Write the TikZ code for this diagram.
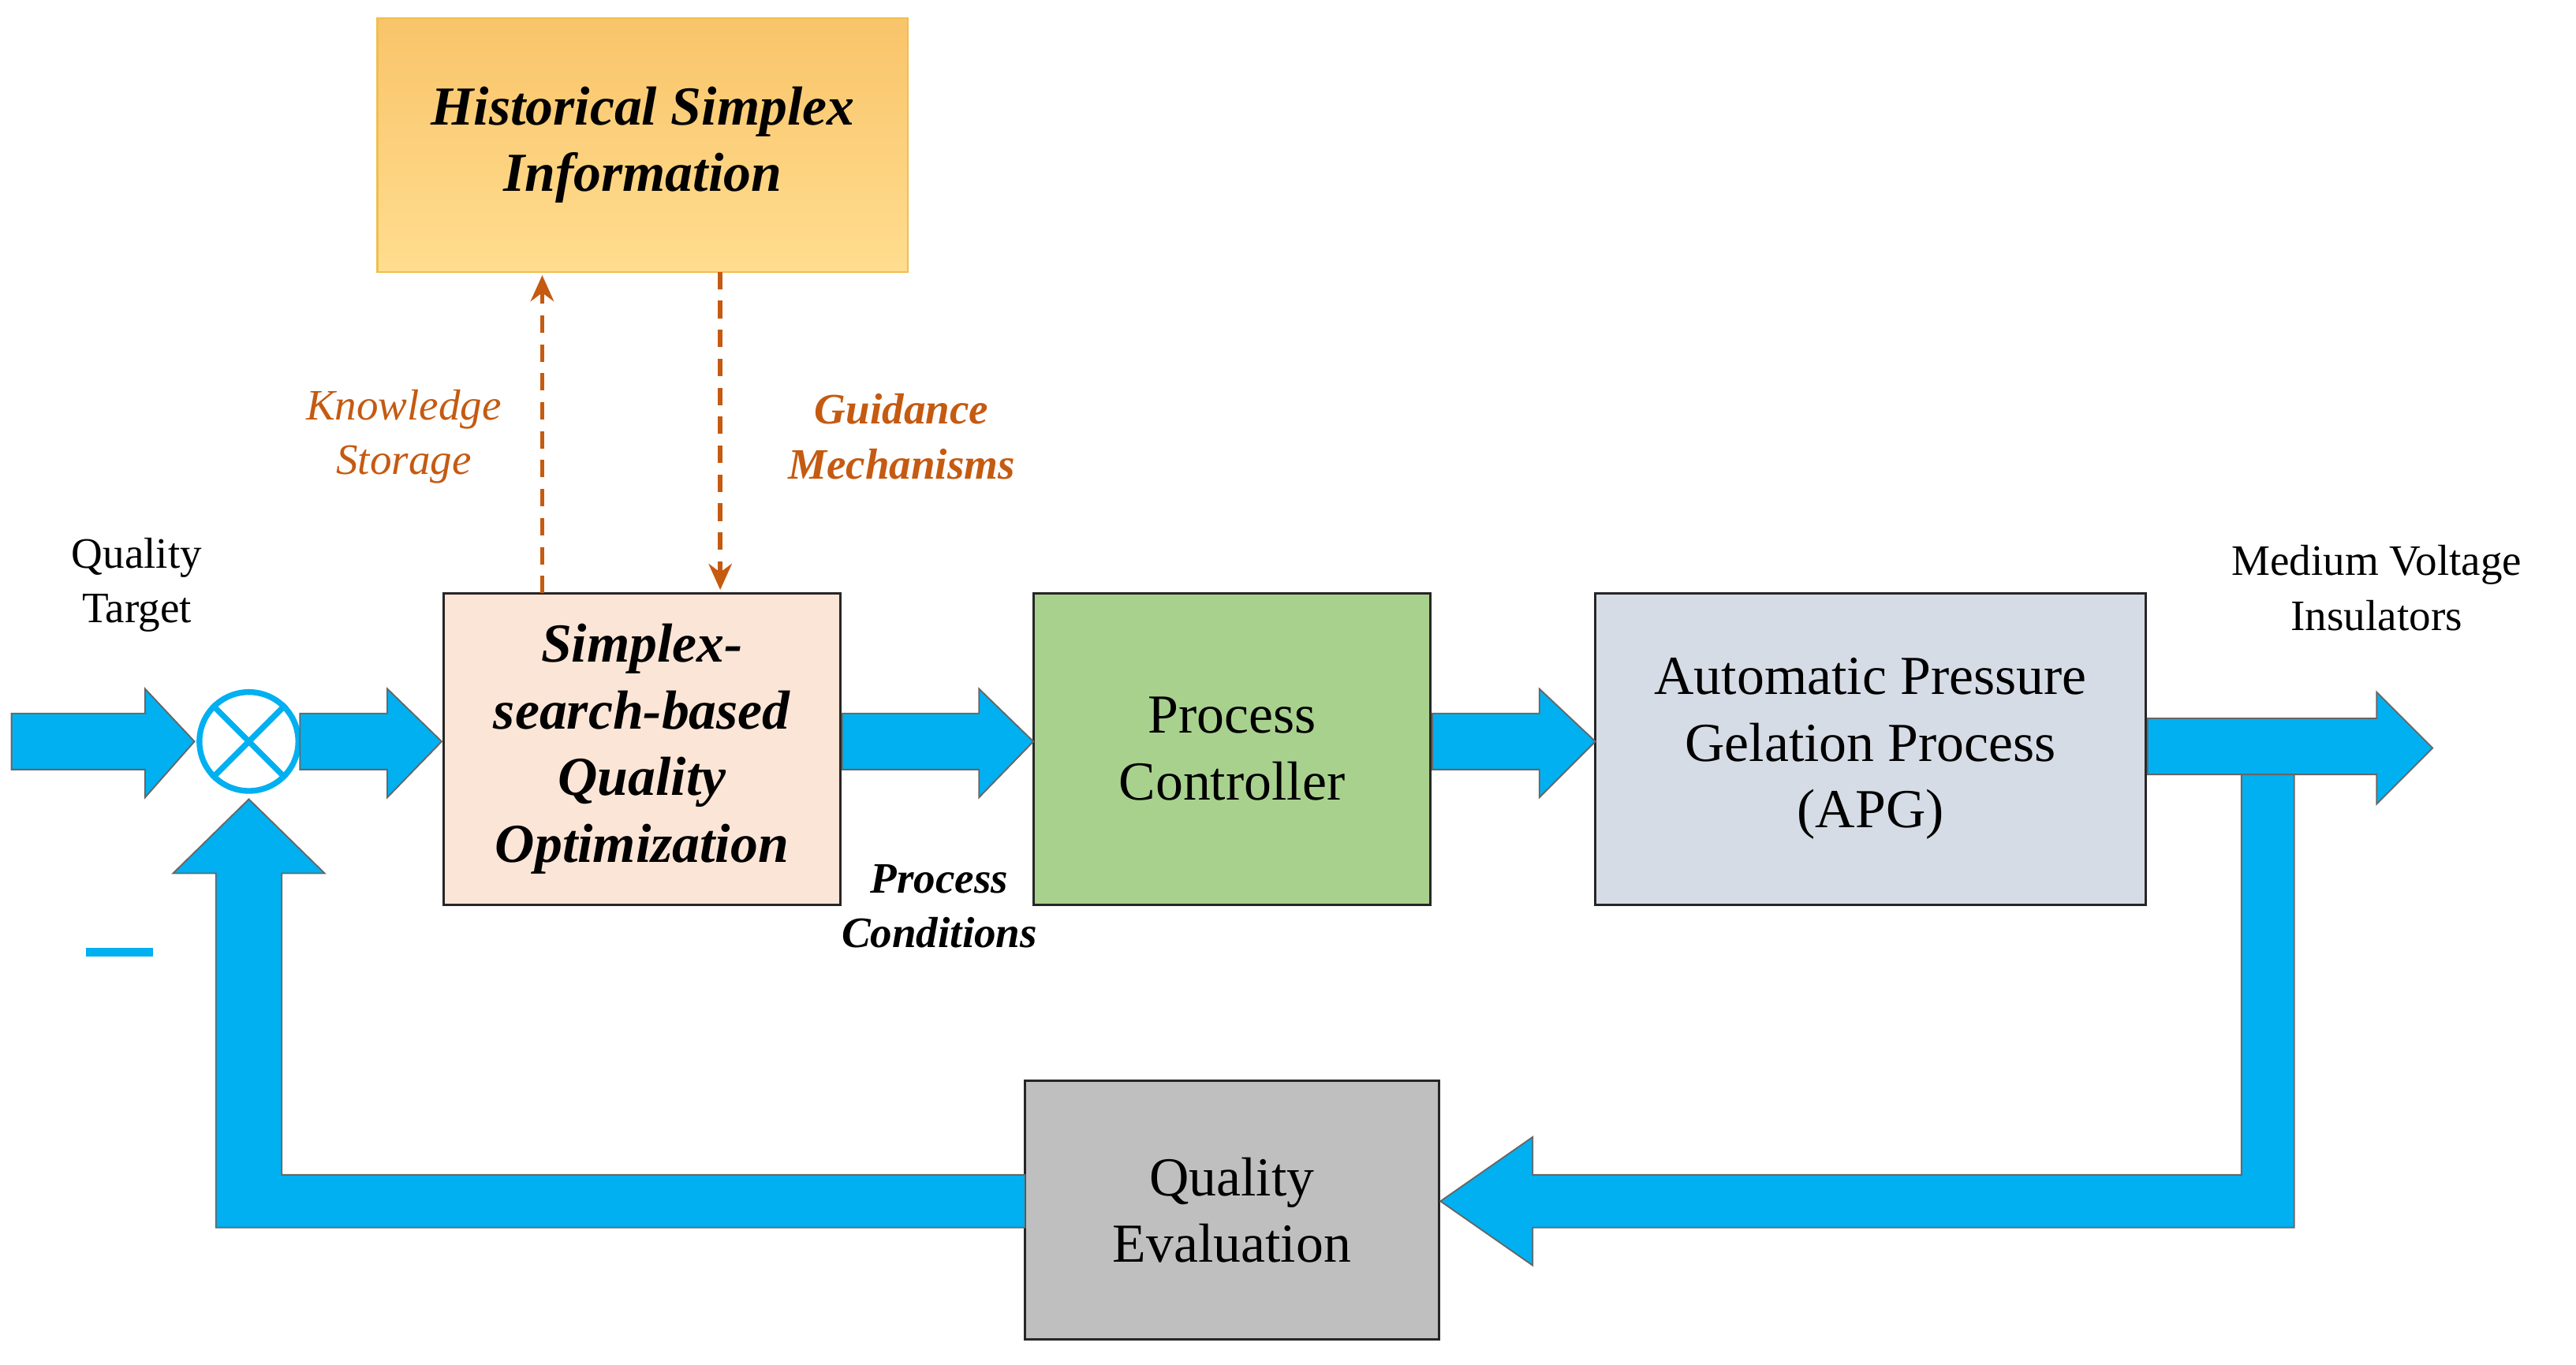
\documentclass[tikz,border=0pt]{standalone}
\usepackage{fontspec}
\setmainfont{Liberation Serif}
\usetikzlibrary{arrows.meta}
\definecolor{cy}{HTML}{00B0F0}
\definecolor{og}{HTML}{C55A11}
\begin{document}
\begin{tikzpicture}[x=0.02cm,y=-0.02cm,
  box/.style={draw=black!85,line width=0.8pt,minimum width=#1,align=center,font=\fontsize{19}{23}\selectfont,inner sep=0pt},
  blk/.style={fill=cy,draw=black!60,line width=0.5pt},
  dsh/.style={og,line width=1.6pt,dash pattern=on 6pt off 4pt,-{Stealth[length=9pt,width=8pt]}},
  lab/.style={align=center,font=\fontsize{15}{19}\selectfont}]
\useasboundingbox (0,0) rectangle (1563,828);
% boxes
\shade[top color={rgb,255:red,249;green,196;blue,106},bottom color={rgb,255:red,255;green,221;blue,143},draw={rgb,255:red,240;green,190;blue,80},line width=0.6pt] (229,11) rectangle (551,165);
\node[align=center,font=\fontsize{19}{23}\selectfont\bfseries\itshape] (hist) at (390,88) {Historical Simplex\\Information};
\node[box=4.82cm,minimum height=3.78cm,fill={rgb,255:red,251;green,229;blue,214},font=\fontsize{19}{23}\selectfont\bfseries\itshape] (opt) at (389.5,454.5) {Simplex-\\search-based\\Quality\\Optimization};
\node[box=4.82cm,minimum height=3.78cm,fill={rgb,255:red,169;green,209;blue,142}] (pc) at (747.5,454.5) {Process\\Controller};
\node[box=6.68cm,minimum height=3.78cm,fill={rgb,255:red,214;green,220;blue,229}] (apg) at (1135,454.5) {Automatic Pressure\\Gelation Process\\(APG)};
\node[box=5.02cm,minimum height=3.14cm,fill={rgb,255:red,191;green,191;blue,191}] (qe) at (747.5,734.5) {Quality\\Evaluation};
% summing junction
\node[circle,draw=cy,line width=2pt,minimum size=1.2cm,inner sep=0pt] (sum) at (151,450) {};
\draw[cy,line width=2pt] (sum.north west)--(sum.south east) (sum.north east)--(sum.south west);
% block arrows
\draw[blk] (7,433)--(88,433)--(88,418)--(118,450)--(88,484)--(88,467)--(7,467)--cycle;
\draw[blk] (182,433)--(235,433)--(235,418)--(268,450)--(235,484)--(235,467)--(182,467)--cycle;
\draw[blk] (511,433)--(594,433)--(594,418)--(627,450)--(594,484)--(594,467)--(511,467)--cycle;
\draw[blk] (869,433)--(934,433)--(934,418)--(968,450)--(934,484)--(934,467)--(869,467)--cycle;
\draw[blk] (1303,436)--(1442,436)--(1442,420)--(1476,454)--(1442,488)--(1442,470)--(1303,470)--cycle;
\draw[blk] (1360,470)--(1392,470)--(1392,745)--(930,745)--(930,768)--(874,729)--(930,690)--(930,713)--(1360,713)--cycle;
\draw[blk] (622,713)--(171,713)--(171,530)--(197,530)--(151,485)--(105,530)--(131,530)--(131,745)--(622,745)--cycle;
\draw[cy,line width=3pt] (52,578)--(93,578);
% dashed
\coordinate (ks) at (329,360);
\coordinate (gm) at (437,165);
\draw[dsh] (ks)--(329,167);
\draw[dsh] (gm)--(437,358);
\node[lab,og,font=\fontsize{15}{19}\selectfont\itshape] (kst) at (245,265) {Knowledge\\Storage};
\node[lab,og,font=\fontsize{15}{19}\selectfont\bfseries\itshape] (gmt) at (547,265) {Guidance\\Mechanisms};
\node[lab] (qt) at (83,355) {Quality\\Target};
\node[lab] (mv) at (1442,357) {Medium Voltage\\Insulators};
\node[lab,font=\fontsize{15}{19}\selectfont\bfseries\itshape] (pcn) at (570,550) {Process\\Conditions};
\end{tikzpicture}
\end{document}
